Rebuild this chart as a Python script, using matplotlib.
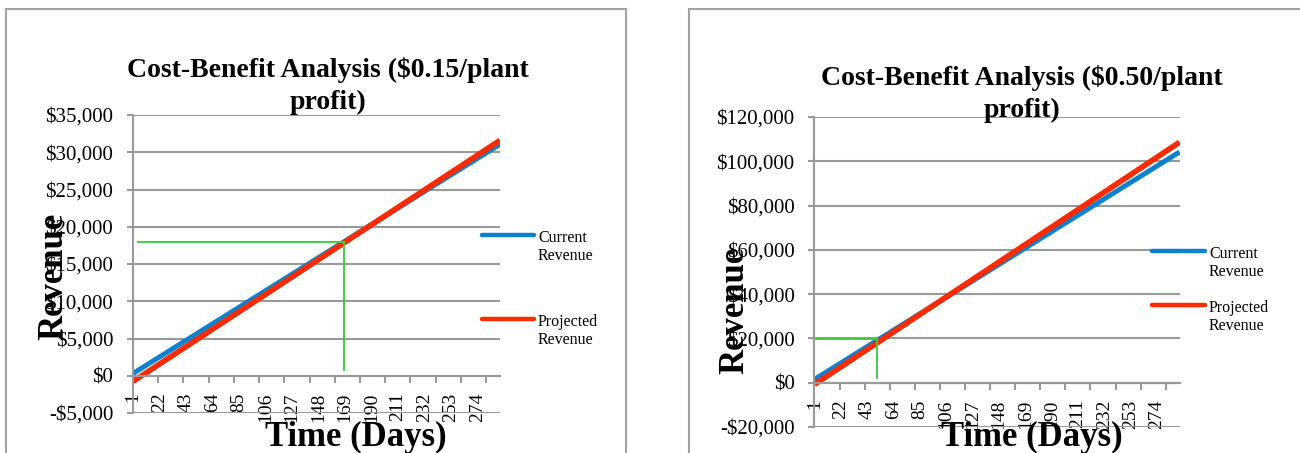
import numpy as np
import matplotlib
matplotlib.use('Agg')
import matplotlib.pyplot as plt
from matplotlib.patches import Rectangle
from matplotlib.lines import Line2D
from matplotlib.ticker import FuncFormatter

# data (straight lines, first and last day)
days = [1, 292]
left_current = [300, 31070]
left_projected = [-760, 31600]
right_current = [1500, 104200]
right_projected = [-750, 108600]

# break-even markers (green guide lines)
left_be_day, left_be_rev = 168, 18000
left_be_start, left_be_low = 5, 800
right_be_day, right_be_rev = 51, 19550
right_be_start, right_be_low = 1, 1940

# Excel drew tick marks every 20 days but labels every 21 days
tick_days = [1, 21, 41, 61, 81, 101, 121, 141, 161, 181, 201, 221, 241, 261, 281]
label_days = [1, 22, 43, 64, 85, 106, 127, 148, 169, 190, 211, 232, 253, 274]
label_text = ['1', '22', '43', '64', '85', '106', '127', '148', '169', '190',
              '211', '232', '253', '274']

left_yticks = [-5000, 0, 5000, 10000, 15000, 20000, 25000, 30000, 35000]
right_yticks = [-20000, 0, 20000, 40000, 60000, 80000, 100000, 120000]

BLUE = '#0a82cf'
RED = '#ff2a00'
GREEN = '#44cc44'
GRID = '#999999'

plt.rcParams['font.family'] = 'Liberation Serif'

W, H = 1300, 453
fig = plt.figure(figsize=(13, 4.53), dpi=100)

# chart frames
fig.add_artist(Rectangle((6/W, -0.05), 620/W, 1.05 - 9/H, transform=fig.transFigure,
                         fill=False, edgecolor='#a0a0a0', lw=1.5))
fig.add_artist(Rectangle((689/W, -0.05), 0.5, 1.05 - 9/H, transform=fig.transFigure,
                         fill=False, edgecolor='#a0a0a0', lw=1.5))


def money(v, pos):
    if v < 0:
        return '-${:,.0f}'.format(-v)
    return '${:,.0f}'.format(v)


def setup(ax, yticks):
    ax.set_xlim(days[0], days[-1])
    ax.set_ylim(yticks[0], yticks[-1])
    ax.set_yticks(yticks)
    ax.yaxis.set_major_formatter(FuncFormatter(money))
    ax.grid(axis='y', color=GRID, lw=1.5)
    ax.set_axisbelow(True)
    for s in ['top', 'right']:
        ax.spines[s].set_visible(False)
    ax.spines['left'].set_color(GRID)
    ax.spines['left'].set_linewidth(1.5)
    ax.spines['bottom'].set_position(('data', 0))
    ax.spines['bottom'].set_color(GRID)
    ax.spines['bottom'].set_linewidth(1.5)
    # keep the "1" label even though a tick mark sits at the same spot
    ax.xaxis.remove_overlapping_locs = False
    ax.set_xticks(tick_days)
    ax.set_xticklabels([])
    ax.set_xticks(label_days, minor=True)
    ax.set_xticklabels(label_text, minor=True, rotation=90, fontsize=14)
    ax.tick_params(axis='y', length=4.3, color=GRID, width=1.5, labelsize=15, pad=10)
    ax.tick_params(axis='x', which='major', length=5, color=GRID, width=1.5)
    ax.tick_params(axis='x', which='minor', length=0, pad=12)


# left chart
ax1 = fig.add_axes([133/W, 1 - 413/H, 367/W, 298/H])
setup(ax1, left_yticks)
ax1.plot(days, left_current, color=BLUE, lw=3.6, solid_capstyle='butt')
ax1.plot(days, left_projected, color=RED, lw=4.0, solid_capstyle='butt')
ax1.plot([left_be_start, left_be_day], [left_be_rev, left_be_rev], color=GREEN, lw=1.4)
ax1.plot([left_be_day, left_be_day], [left_be_rev, left_be_low], color=GREEN, lw=1.4)

# right chart
ax2 = fig.add_axes([814.5/W, 1 - 427/H, 365/W, 310/H])
setup(ax2, right_yticks)
ax2.plot(days, right_current, color=BLUE, lw=3.6, solid_capstyle='butt')
ax2.plot(days, right_projected, color=RED, lw=4.0, solid_capstyle='butt')
ax2.plot([right_be_start, right_be_day], [right_be_rev, right_be_rev], color=GREEN, lw=1.4)
ax2.plot([right_be_day, right_be_day], [right_be_rev, right_be_low], color=GREEN, lw=1.4)

# titles
fig.text(328/W, 1 - 70/H, 'Cost-Benefit Analysis ($0.15/plant', ha='center', va='center',
         fontsize=20, fontweight='bold')
fig.text(328/W, 1 - 102/H, 'profit)', ha='center', va='center', fontsize=20, fontweight='bold')
fig.text(1022/W, 1 - 78/H, 'Cost-Benefit Analysis ($0.50/plant', ha='center', va='center',
         fontsize=20, fontweight='bold')
fig.text(1022/W, 1 - 110/H, 'profit)', ha='center', va='center', fontsize=20, fontweight='bold')

# axis titles
fig.text(54/W, 1 - 276/H, 'Revenue', rotation=90, ha='center', va='center',
         fontsize=25, fontweight='bold')
fig.text(735/W, 1 - 310/H, 'Revenue', rotation=90, ha='center', va='center',
         fontsize=25, fontweight='bold')
fig.text(356/W, 1 - 437/H, 'Time (Days)', ha='center', va='center', fontsize=25, fontweight='bold')
fig.text(1032/W, 1 - 437/H, 'Time (Days)', ha='center', va='center', fontsize=25, fontweight='bold')


# legends
def legend_entry(x0, x1, y_line, y_text, color, label):
    fig.add_artist(Line2D([x0/W, x1/W], [1 - y_line/H, 1 - y_line/H],
                          transform=fig.transFigure, color=color, lw=3.2, solid_capstyle='round'))
    fig.text((x1 + 4)/W, 1 - y_text/H, label, ha='left', va='center', fontsize=11.5,
             linespacing=1.15)


legend_entry(482, 534, 235, 247, BLUE, 'Current\nRevenue')
legend_entry(482, 534, 319, 331, RED, 'Projected\nRevenue')
legend_entry(1152, 1205, 251, 263, BLUE, 'Current\nRevenue')
legend_entry(1152, 1205, 305, 317, RED, 'Projected\nRevenue')

fig.savefig('out.png', dpi=100)
